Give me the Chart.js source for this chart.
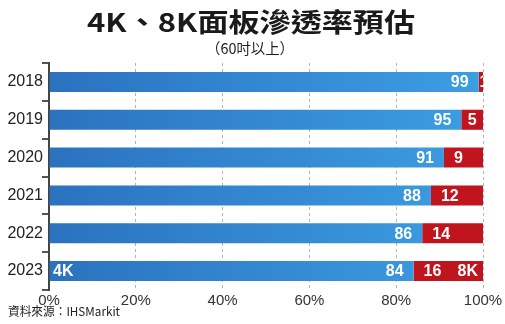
<!DOCTYPE html>
<html>
<head>
<meta charset="utf-8">
<script src="https://cdn.jsdelivr.net/npm/chart.js@4"></script>
<style>
  html,body{margin:0;padding:0;background:#fff;}
  #wrap{width:505px;height:324px;}
</style>
</head>
<body>
<div id="wrap"><canvas id="chart" width="505" height="324"></canvas></div>
<script>
const years = ["2018","2019","2020","2021","2022","2023"];
const share4K = [99,95,91,88,86,84];
const share8K = [1,5,9,12,14,16];
const titleText = "4K、8K面板滲透率預估";
const subtitleText = "（60吋以上）";
const sourceText = "資料來源：IHSMarkit";

const FONT = "'Liberation Sans', Arial, 'Noto Sans CJK TC', sans-serif";
const CJK = "'Noto Sans CJK TC', 'Liberation Sans', sans-serif";

// texte étiré horizontalement pour tenir dans une largeur donnée
function fitText(ctx, txt, cx, cy, w, font, color, align){
  ctx.save();
  ctx.font = font;
  ctx.fillStyle = color;
  ctx.textBaseline = "middle";
  const m = ctx.measureText(txt).width;
  const s = w / m;
  if(align === "left"){
    ctx.translate(cx, cy); ctx.scale(s,1); ctx.textAlign = "left";
  } else {
    ctx.translate(cx, cy); ctx.scale(s,1); ctx.textAlign = "center";
  }
  ctx.fillText(txt, 0, 0);
  ctx.restore();
}

const decor = {
  id: "decor",
  afterDraw(chart){
    const ctx = chart.ctx;
    fitText(ctx, titleText, 251, 22, 328, "bold 26px " + CJK, "#1a1a1a");
    fitText(ctx, subtitleText, 250, 48, 88, "15px " + CJK, "#222");
    fitText(ctx, sourceText, 8, 311, 112, "12px " + CJK, "#222", "left");

    // valeurs dans les barres
    const area = chart.chartArea;
    const m4 = chart.getDatasetMeta(0), m8 = chart.getDatasetMeta(1);
    ctx.save();
    ctx.beginPath();
    ctx.rect(area.left, area.top, area.right - area.left, area.bottom - area.top);
    ctx.clip();
    ctx.font = "bold 16px " + FONT;
    ctx.fillStyle = "#fff";
    ctx.textBaseline = "middle";
    years.forEach(function(y, i){
      const b = m4.data[i], r = m8.data[i];
      ctx.textAlign = "right";
      ctx.fillText(String(share4K[i]), b.x - 10, b.y + 1);
      const w = r.x - b.x;
      if(w < 30){
        ctx.textAlign = "center";
        ctx.fillText(String(share8K[i]), b.x + w/2 + (w < 10 ? 3 : 0), r.y + 1);
      } else {
        ctx.textAlign = "left";
        ctx.fillText(String(share8K[i]), b.x + 10, r.y + 1);
      }
    });
    const last = years.length - 1;
    ctx.textAlign = "left";
    ctx.fillText("4K", area.left + 4, m4.data[last].y + 1);
    ctx.textAlign = "right";
    ctx.fillText("8K", m8.data[last].x - 5, m8.data[last].y + 1);
    ctx.restore();
  }
};

function blueFill(context){
  const chart = context.chart;
  const a = chart.chartArea;
  if(!a) return "#3388d0";
  const g = chart.ctx.createLinearGradient(a.left, 0, a.right, 0);
  g.addColorStop(0, "#2b72bf");
  g.addColorStop(1, "#3c9ee3");
  return g;
}

new Chart(document.getElementById("chart"), {
  type: "bar",
  data: {
    labels: years,
    datasets: [
      { label: "4K", data: share4K, backgroundColor: blueFill, borderWidth: 0,
        barPercentage: 0.53, categoryPercentage: 1 },
      { label: "8K", data: share8K, backgroundColor: "#c0151f", borderWidth: 0,
        barPercentage: 0.53, categoryPercentage: 1 }
    ]
  },
  options: {
    indexAxis: "y",
    responsive: false,
    animation: false,
    layout: { padding: { top: 63, right: 22, bottom: 18, left: 0 } },
    plugins: { legend: { display: false }, tooltip: { enabled: false }, title: { display: false } },
    scales: {
      x: {
        stacked: true, min: 0, max: 100,
        afterFit: function(s){ s.height = 16; },
        ticks: { stepSize: 20, padding: 2, color: "#333",
          font: { family: FONT, size: 15 }, callback: v => v + "%" },
        grid: {
          drawTicks: false,
          color: ctx => ctx.tick && ctx.tick.value === 0 ? "rgba(0,0,0,0)" : "#b5b5b5"
        },
        border: { display: false, dash: [3,3] }
      },
      y: {
        stacked: true,
        afterFit: function(s){ s.width = 49; },
        ticks: { padding: -1, color: "#222", font: { family: FONT, size: 16 } },
        grid: { offset: true, drawOnChartArea: false, tickLength: 7, color: "#555", lineWidth: 2 },
        border: { display: true, color: "#444", width: 2 }
      }
    }
  },
  plugins: [decor]
});
</script>
</body>
</html>
